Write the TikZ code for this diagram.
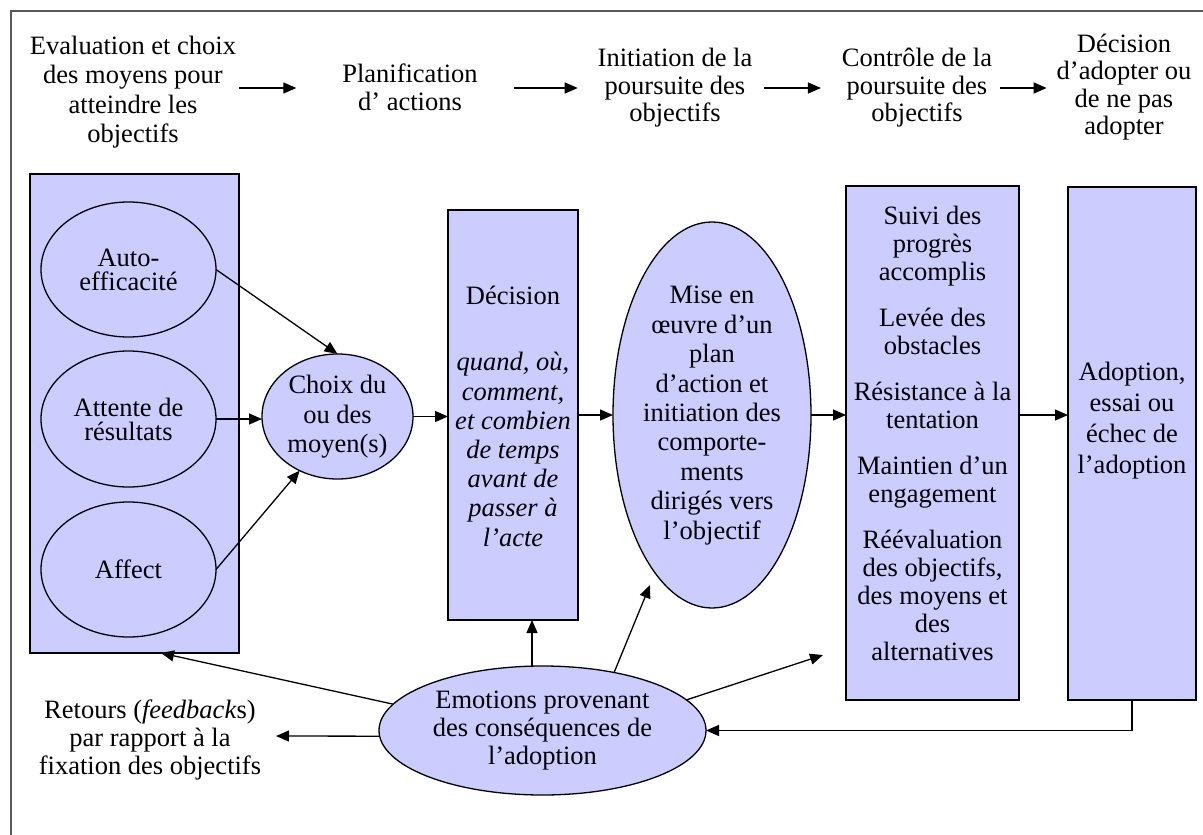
\documentclass[tikz,border=0pt]{standalone}
\usepackage{fontspec}
\setmainfont{Liberation Serif}
\usetikzlibrary{arrows.meta,shapes.geometric}
\definecolor{lav}{HTML}{CCCCFF}
\begin{document}
\begin{tikzpicture}[x=1pt,y=-1pt,
  every node/.style={inner sep=0pt, outer sep=0pt},
  txt/.style={align=center, font=\fontsize{26.5}{28}\selectfont},
  boxshape/.style={draw=black, line width=1.3pt, fill=lav, rectangle},
  ovalshape/.style={draw=black, line width=1.3pt, fill=lav, ellipse},
  arr/.style={line width=1.3pt, -{Triangle[length=13pt,width=11pt]}},
]
\useasboundingbox (0,0) rectangle (1203,835);
\clip (0,0) rectangle (1203,835);
% outer frame
\draw[line width=2.2pt, draw=black!65] (11,11) rectangle (1230,860);

% stages along the top
\node[txt, font=\fontsize{26.5}{29.5}\selectfont] (eval) at (133,92) {Evaluation et choix\\des moyens pour\\atteindre les\\objectifs};
\node[txt] (plan) at (410,87) {Planification\\d’ actions};
\node[txt, font=\fontsize{26.5}{27.5}\selectfont] (init) at (675,88) {Initiation de la\\poursuite des\\objectifs};
\node[txt, font=\fontsize{26.5}{27.5}\selectfont] (ctrl) at (917,88) {Contrôle de la\\poursuite des\\objectifs};
\node[txt, font=\fontsize{26.5}{27.3}\selectfont] (dadopt) at (1124,87) {Décision\\d’adopter ou\\de ne pas\\adopter};
\coordinate (row) at (0,88);
\draw[arr, shorten <=3pt, shorten >=46pt] (eval.east |- row) -- (plan.west |- row);
\draw[arr, shorten <=36pt, shorten >=20pt] (plan.east |- row) -- (init.west |- row);
\draw[arr, shorten <=12pt, shorten >=21pt] (init.east |- row) -- (ctrl.west |- row);
\draw[arr, shorten <=8pt, shorten >=10pt] (ctrl.east |- row) -- (dadopt.west |- row);

% evaluation block
\node[boxshape, minimum width=209pt, minimum height=479pt] (left) at (134.5,413.5) {};
\node[ovalshape, minimum width=175pt, minimum height=135pt] (auto) at (128.5,269.5) {};
\node[txt, font=\fontsize{26.5}{24}\selectfont] (autoT) at (auto.center) {Auto-\\efficacité};
\node[ovalshape, minimum width=175pt, minimum height=136pt] (attente) at (128.5,419) {};
\node[txt, font=\fontsize{26.5}{24}\selectfont] (attenteT) at (attente.center) {Attente de\\résultats};
\node[ovalshape, minimum width=175pt, minimum height=135pt] (affect) at (128.5,569.5) {};
\node[txt] (affectT) at (affect.center) {Affect};

\node[ovalshape, minimum width=151pt, minimum height=125pt] (choix) at (337.5,416.5) {};
\node[txt, font=\fontsize{26.5}{29.5}\selectfont] (choixT) at (337.5,417) {Choix du\\ou des\\moyen(s)};

% decision
\node[boxshape, minimum width=130pt, minimum height=410pt] (decision) at (513,415) {};
\node[txt] (decT) at (513,295) {Décision};
\node[txt, font=\itshape\fontsize{26.5}{29.2}\selectfont] (decI) at (513,449.5) {quand, où,\\comment,\\et combien\\de temps\\avant de\\passer à\\l’acte};

% implementation
\node[ovalshape, minimum width=198pt, minimum height=386pt] (mise) at (712,415) {};
\node[txt, font=\fontsize{26.5}{29.4}\selectfont] (miseT) at (712,415.5) {Mise en\\œuvre d’un\\plan\\d’action et\\initiation des\\comporte-\\ments\\dirigés vers\\l’objectif};

% monitoring
\node[boxshape, minimum width=173pt, minimum height=514pt] (suivi) at (932.5,443) {};
\node[txt] (suiviT) at (932.5,433) {Suivi des\\progrès\\accomplis\\[18pt]Levée des\\obstacles\\[18pt]Résistance à la\\tentation\\[18pt]Maintien d’un\\engagement\\[18pt]Réévaluation\\des objectifs,\\des moyens et\\des\\alternatives};

% outcome
\node[boxshape, minimum width=128pt, minimum height=513pt] (adoption) at (1132,443.5) {};
\node[txt, font=\fontsize{26.5}{31}\selectfont] (adoptT) at (1132,421) {Adoption,\\essai ou\\échec de\\l’adoption};

% emotions and feedback
\node[ovalshape, minimum width=327pt, minimum height=129pt] (emotions) at (542.5,730.5) {};
\node[txt] (emoT) at (542.5,731) {Emotions provenant\\des conséquences de\\l’adoption};
\node[txt] (retours) at (150,740) {Retours (\textit{feedback}s)\\par rapport à la\\fixation des objectifs};

% main flow
\draw[arr] (auto.east) -- (choix.north);
\draw[arr] (attente.east) -- (attente.east -| choix.west);
\draw[arr] (affect.east) -- (choix.-125);
\draw[arr] (choix.east) -- (decision.west |- choix.east);
\draw[arr] (decision.east) -- (mise.west);
\draw[arr] (mise.east) -- (suivi.west |- mise.east);
\draw[arr] (suivi.east |- mise.east) -- (adoption.west |- mise.east);
\draw[arr] (adoption.south) |- (emotions.east);

% feedback arrows
\coordinate (miseTip) at (650,585);
\coordinate (suiviTip) at (823,655);
\coordinate (fbTip) at (276,736);
\draw[arr] (emotions.170) -- ([xshift=26.5pt]left.south);
\draw[arr] ([xshift=-10.5pt]emotions.north) -- ([xshift=19pt]decision.south);
\draw[arr] (emotions.39) -- (miseTip);
\draw[arr] (emotions.12) -- (suiviTip);
\draw[arr] (emotions.182) -- (fbTip);
\end{tikzpicture}
\end{document}
